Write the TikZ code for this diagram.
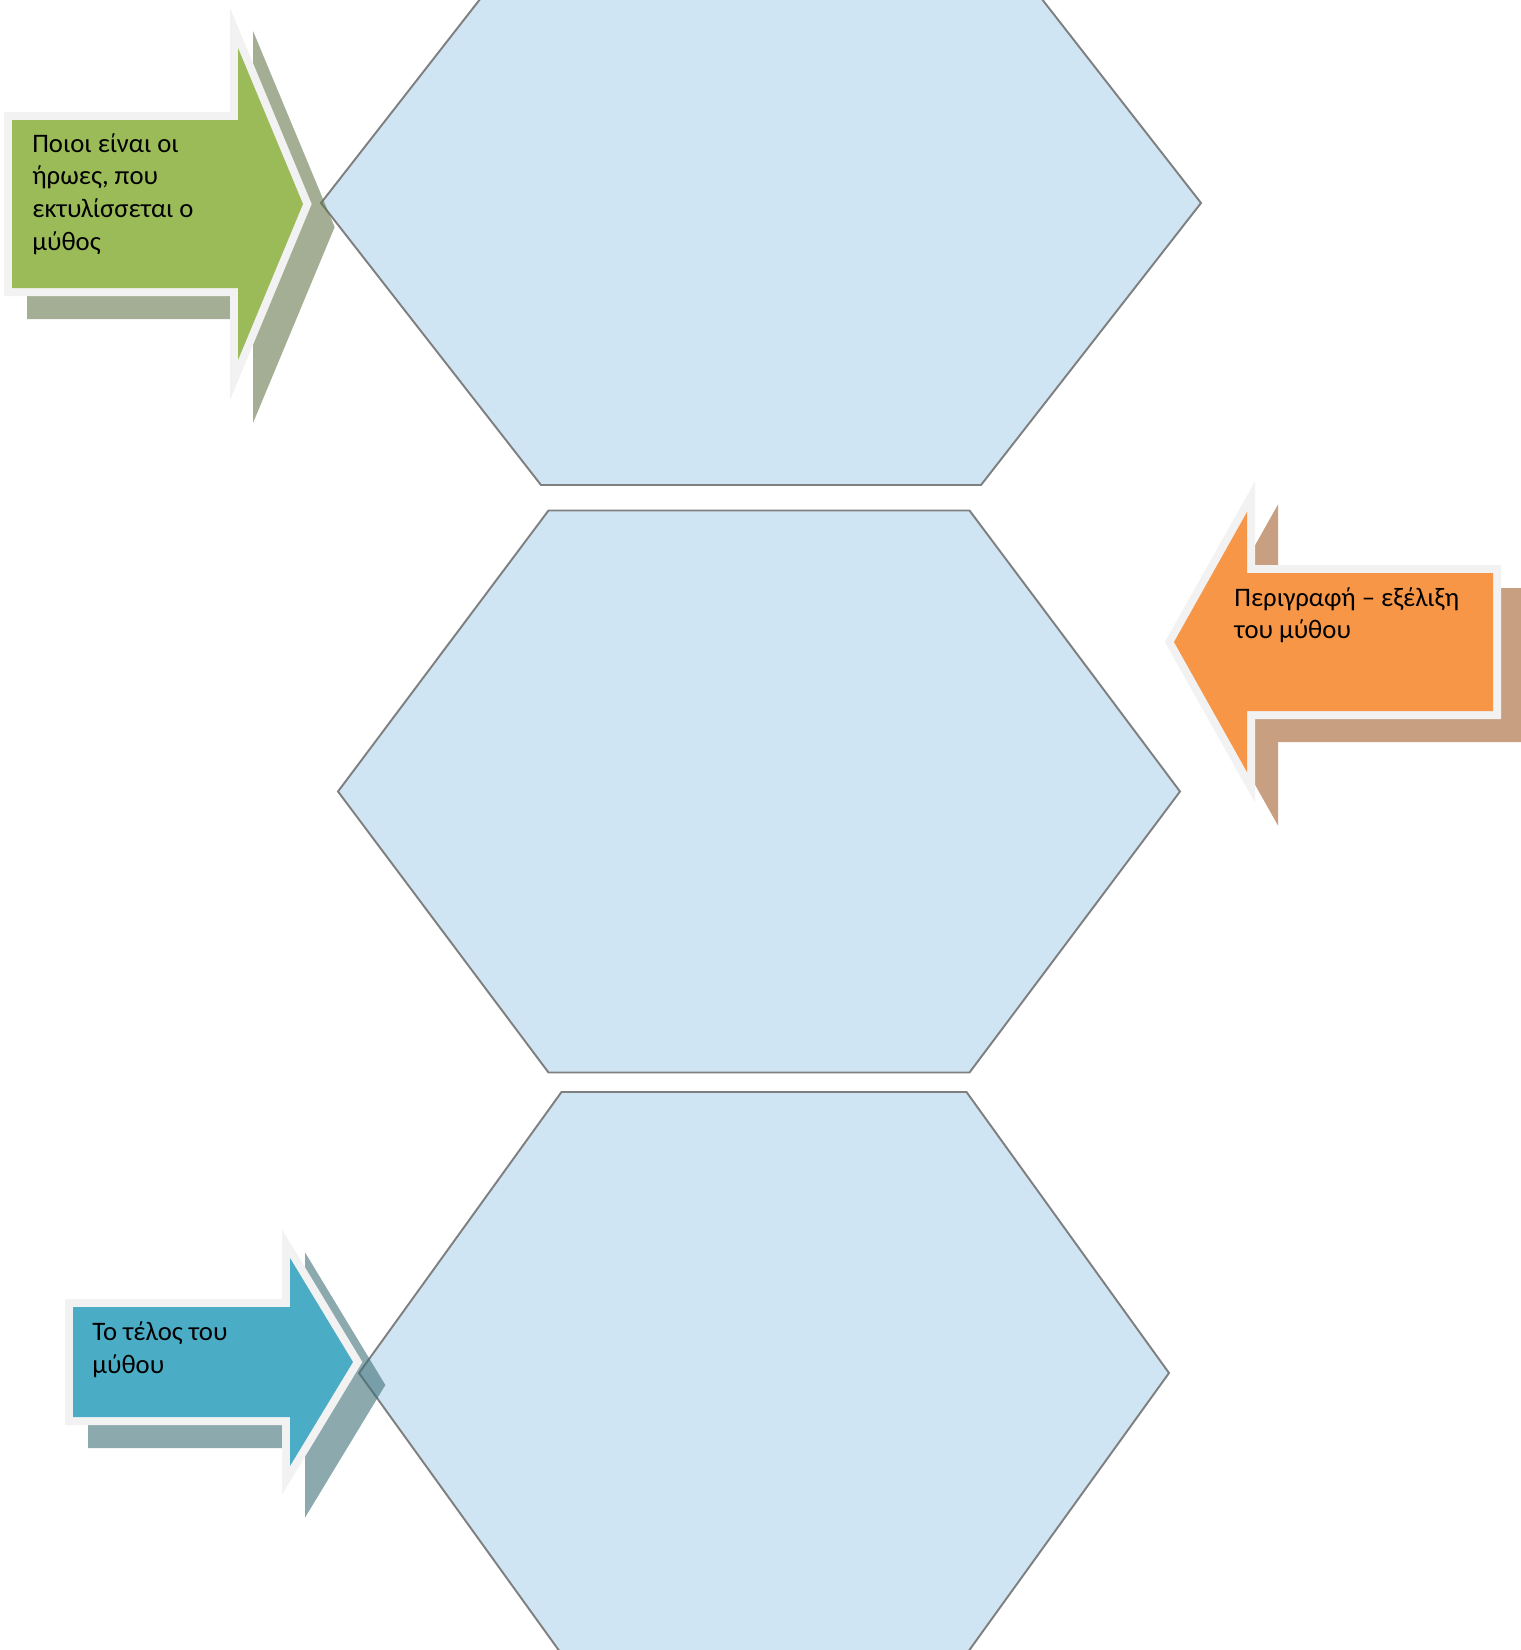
\documentclass[tikz,border=0pt]{standalone}
\usepackage{fontspec}
\setmainfont{Carlito}
\usetikzlibrary{calc}

\definecolor{hexfill}{HTML}{CFE5F3}
\definecolor{hexline}{HTML}{7F7F7F}
\definecolor{rim}{HTML}{F2F2F2}
\definecolor{greenarrow}{HTML}{9BBB59}
\definecolor{orangearrow}{HTML}{F79646}
\definecolor{bluearrow}{HTML}{4BACC6}
\definecolor{greenshade}{RGB}{103,120,77}
\definecolor{orangeshade}{RGB}{163,95,43}
\definecolor{blueshade}{RGB}{63,112,120}

% block arrow: tail x, neck x, tip x, axis y, half shaft, half head
\newcommand{\blockarrow}[6]{(#1,#4-#5) -- (#2,#4-#5) -- (#2,#4-#6) -- (#3,#4) -- (#2,#4+#6) -- (#2,#4+#5) -- (#1,#4+#5) -- cycle}
% hexagon: centre x, centre y, half width, half height
\newcommand{\hexagonpath}[4]{(#1-#3,#2) -- (#1-#3/2,#2-#4) -- (#1+#3/2,#2-#4) -- (#1+#3,#2) -- (#1+#3/2,#2+#4) -- (#1-#3/2,#2+#4) -- cycle}

\tikzset{
	hexa/.style={fill=hexfill, draw=hexline, line width=1.1pt, line join=miter},
	shade/.style={fill=#1, draw=#1, line width=.32cm, line join=miter},
	block/.style={fill=#1, preaction={draw=rim, line width=.32cm, line join=miter}},
	caption/.style={anchor=base west, align=left, inner sep=0pt, font=\fontsize{15.2}{18.5}\selectfont}
}

\begin{document}
\begin{tikzpicture}[x=0.02cm, y=-0.02cm]
			\def\W{1521};
			\def\H{1650};
			\def\off{23};

			\useasboundingbox (0,0) rectangle (\W,\H);
			\clip (0,0) rectangle (\W,\H);

			\begin{scope}
				\path[hexa] \hexagonpath{761}{203}{440}{282};
				\path[hexa] \hexagonpath{759}{791.5}{421}{281};
				\path[hexa] \hexagonpath{764}{1373}{405}{281};
			\end{scope}

			\begin{scope}[shift={(\off,\off)}, transparency group, opacity=.6]
				\path[shade=greenshade] \blockarrow{12}{238}{303}{204}{84}{156};
				\path[shade=orangeshade] \blockarrow{1493}{1247}{1174}{642}{69}{130};
				\path[shade=blueshade] \blockarrow{73}{290}{353}{1362}{55}{104};
			\end{scope}

			\begin{scope}
				\path[block=greenarrow] \blockarrow{12}{238}{303}{204}{84}{156};
				\path[block=orangearrow] \blockarrow{1493}{1247}{1174}{642}{69}{130};
				\path[block=bluearrow] \blockarrow{73}{290}{353}{1362}{55}{104};
			\end{scope}

			% base anchor sits on the last line
			\node (heroes) [caption] at (32,250) {Ποιοι είναι οι\\ήρωες, που\\εκτυλίσσεται ο\\μύθος};
			\node (course) [caption] at (1234,638.5) {Περιγραφή – εξέλιξη\\του μύθου};
			\node (ending) [caption] at (92,1373) {Το τέλος του\\μύθου};
		\end{tikzpicture}
\end{document}
